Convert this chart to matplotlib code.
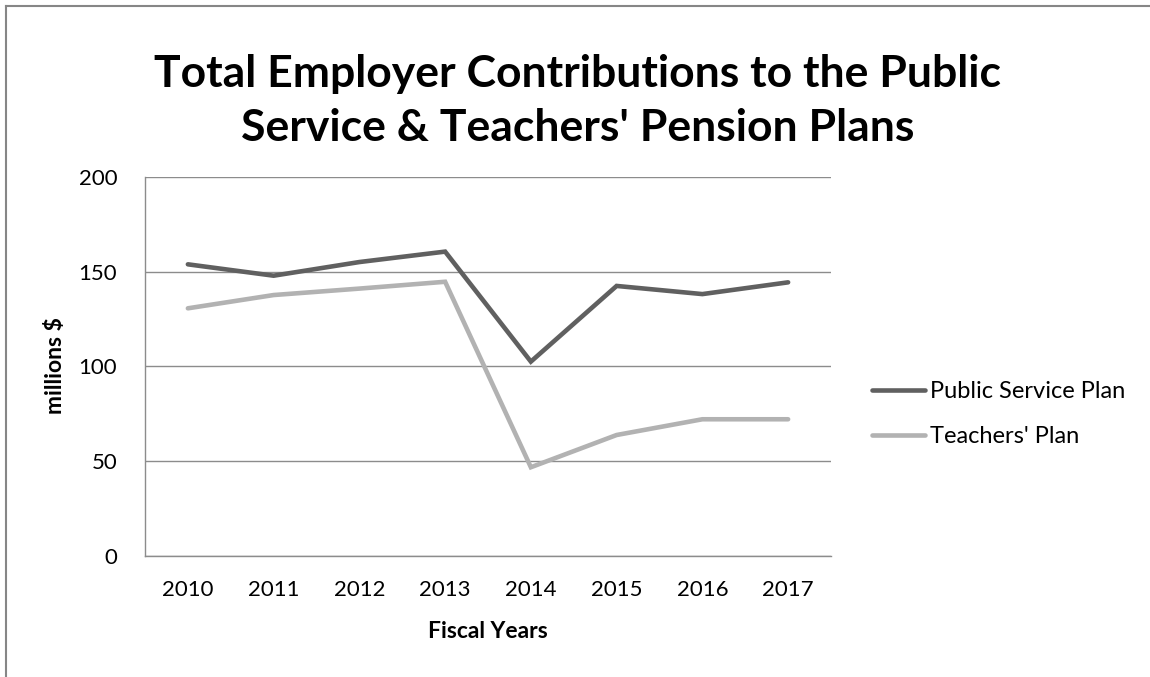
import matplotlib
matplotlib.use("Agg")
import matplotlib.pyplot as plt
from matplotlib.lines import Line2D

years = ["2010", "2011", "2012", "2013", "2014", "2015", "2016", "2017"]
public_service = [153.8, 147.8, 155.0, 160.5, 102.5, 142.4, 138.1, 144.3]
teachers = [130.6, 137.6, 141.0, 144.6, 46.8, 63.8, 72.1, 72.1]
y_ticks = [0, 50, 100, 150, 200]

W, H = 1150, 677
fig = plt.figure(figsize=(W / 100, H / 100), dpi=100)
plt.rcParams['font.family'] = ['Lato', 'DejaVu Sans']

# outer chart border (left + top)
bx, by = 6 / W, 1 - 6 / H
fig.add_artist(Line2D([bx, bx], [0, by], transform=fig.transFigure, color="#868686", lw=1.5))
fig.add_artist(Line2D([bx, 1], [by, by], transform=fig.transFigure, color="#868686", lw=1.5))

ax = fig.add_axes([145 / W, 1 - 556 / H, (831 - 145) / W, (556 - 176.7) / H])
x = list(range(len(years)))
ax.plot(x, public_service, color="#606060", lw=3.3, solid_capstyle="round",
        solid_joinstyle="miter", label="Public Service Plan", zorder=3)
ax.plot(x, teachers, color="#b2b2b2", lw=3.3, solid_capstyle="round",
        solid_joinstyle="miter", label="Teachers' Plan", zorder=3)

ax.set_xlim(-0.5, len(years) - 0.5)
ax.set_ylim(0, 200)
ax.set_yticks(y_ticks)
ax.set_xticks(x)
ax.set_xticklabels(years)
ax.grid(axis="y", color="#8c8c8c", lw=1.0)
ax.set_axisbelow(True)
for s in ["top", "right"]:
    ax.spines[s].set_visible(False)
for s in ["left", "bottom"]:
    ax.spines[s].set_color("#8c8c8c")
    ax.spines[s].set_linewidth(1.0)
ax.tick_params(length=0, labelsize=16, colors="black")
ax.tick_params(axis="x", pad=17)
ax.tick_params(axis="y", pad=20)

fig.text(56 / W, 1 - 366 / H, "millions $", rotation=90, fontsize=16.5,
         fontweight="bold", ha="center", va="center")
fig.text(488 / W, 1 - 631 / H, "Fiscal Years", fontsize=16.5,
         fontweight="bold", ha="center", va="center")

fig.text(578 / W, 1 - 101 / H,
         "Total Employer Contributions to the Public\nService & Teachers' Pension Plans",
         fontsize=32, fontweight="bold", ha="center", va="center", linespacing=1.45)

leg = ax.legend(loc="center left", bbox_to_anchor=(851 / W, 1 - 414 / H),
                bbox_transform=fig.transFigure, frameon=False, fontsize=17,
                handlelength=2.25, handletextpad=0.2, labelspacing=1.0)

fig.savefig("out.png", dpi=100)
